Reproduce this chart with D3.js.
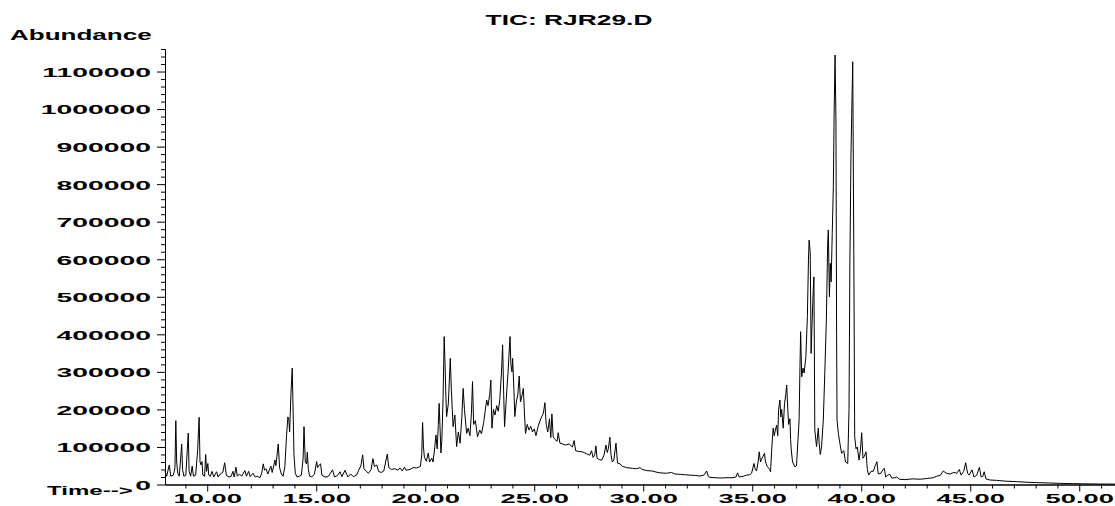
<!DOCTYPE html>
<html>
<head>
<meta charset="utf-8">
<script src="https://cdn.jsdelivr.net/npm/d3@7"></script>
<style>
  body { margin: 0; background: #fff; }
  svg { display: block; }
  text { font-family: "Liberation Sans", Arial, sans-serif; font-weight: bold; fill: #000; }
</style>
</head>
<body>
<svg id="chart" width="1115" height="506"></svg>
<script>
// retention time (min), abundance
var tic = [
  [8.06,38000],[8.14,22000],[8.26,52000],[8.33,22000],[8.45,25000],[8.52,45000],[8.56,170000],[8.60,60000],
  [8.65,30000],[8.72,22000],[8.83,108000],[8.87,40000],[8.93,22000],[9.02,25000],[9.13,137000],[9.17,35000],
  [9.24,22000],[9.31,49000],[9.37,22000],[9.47,25000],[9.56,90000],[9.63,179000],[9.67,60000],[9.72,52000],
  [9.76,61000],[9.80,25000],[9.88,22000],[9.93,80000],[9.97,35000],[10.03,56000],[10.07,25000],[10.14,22000],
  [10.22,35000],[10.30,20000],[10.43,34000],[10.50,20000],[10.60,28000],[10.72,33000],[10.80,58000],[10.88,24000],
  [11.00,20000],[11.10,22000],[11.18,35000],[11.24,20000],[11.32,46000],[11.38,22000],[11.48,28000],[11.58,22000],
  [11.73,37000],[11.80,22000],[11.90,35000],[11.97,21000],[12.10,30000],[12.20,20000],[12.30,22000],[12.42,18000],
  [12.50,30000],[12.57,55000],[12.63,38000],[12.70,42000],[12.78,28000],[12.92,49000],[12.98,32000],[13.11,65000],
  [13.15,50000],[13.26,108000],[13.32,45000],[13.40,28000],[13.48,22000],[13.56,47000],[13.64,130000],[13.70,180000],
  [13.74,175000],[13.78,140000],[13.84,240000],[13.90,310000],[13.94,198000],[13.98,80000],[14.04,30000],[14.12,20000],
  [14.22,22000],[14.32,25000],[14.40,70000],[14.44,154000],[14.50,60000],[14.56,55000],[14.59,86000],[14.64,40000],
  [14.70,22000],[14.80,20000],[14.92,28000],[15.02,61000],[15.06,45000],[15.14,52000],[15.20,55000],[15.26,25000],
  [15.40,20000],[15.55,21000],[15.75,39000],[15.84,20000],[15.98,24000],[16.09,34000],[16.18,21000],[16.32,38000],
  [16.45,20000],[16.58,28000],[16.70,21000],[16.85,25000],[16.95,38000],[17.05,50000],[17.13,79000],[17.19,42000],
  [17.30,35000],[17.40,30000],[17.52,40000],[17.60,69000],[17.67,48000],[17.78,52000],[17.86,35000],[17.98,32000],
  [18.10,36000],[18.26,81000],[18.33,45000],[18.45,40000],[18.60,42000],[18.75,38000],[18.84,44000],[18.95,36000],
  [19.05,46000],[19.12,38000],[19.30,40000],[19.45,45000],[19.60,44000],[19.78,48000],[19.84,80000],[19.88,165000],
  [19.92,100000],[19.96,73000],[20.05,62000],[20.14,84000],[20.20,60000],[20.30,70000],[20.36,60000],[20.44,100000],
  [20.49,132000],[20.55,95000],[20.60,160000],[20.64,216000],[20.68,150000],[20.72,84000],[20.76,115000],[20.82,230000],
  [20.87,394000],[20.91,320000],[20.94,252000],[20.98,181000],[21.06,215000],[21.15,336000],[21.20,250000],[21.28,154000],
  [21.36,185000],[21.44,101000],[21.52,140000],[21.60,110000],[21.68,180000],[21.74,256000],[21.80,200000],[21.90,136000],
  [21.97,150000],[22.05,130000],[22.12,190000],[22.17,274000],[22.22,160000],[22.30,170000],[22.40,127000],[22.50,145000],
  [22.58,135000],[22.68,165000],[22.76,200000],[22.82,225000],[22.88,210000],[22.96,240000],[23.01,278000],[23.06,150000],
  [23.13,200000],[23.20,185000],[23.28,210000],[23.35,195000],[23.42,225000],[23.50,300000],[23.55,372000],[23.60,240000],
  [23.64,154000],[23.72,230000],[23.80,300000],[23.89,394000],[23.93,320000],[23.98,300000],[24.01,336000],[24.07,250000],
  [24.11,181000],[24.18,220000],[24.25,240000],[24.31,289000],[24.37,220000],[24.45,240000],[24.50,256000],[24.56,180000],
  [24.60,136000],[24.68,160000],[24.76,145000],[24.84,155000],[24.92,140000],[25.00,148000],[25.08,130000],[25.18,155000],
  [25.30,175000],[25.42,190000],[25.49,218000],[25.55,160000],[25.62,140000],[25.70,175000],[25.76,125000],[25.81,188000],
  [25.87,127000],[25.95,120000],[26.05,115000],[26.10,138000],[26.18,110000],[26.30,108000],[26.45,105000],[26.60,108000],
  [26.75,100000],[26.83,117000],[26.90,90000],[27.05,88000],[27.20,87000],[27.40,82000],[27.55,78000],[27.63,90000],
  [27.70,72000],[27.78,80000],[27.83,103000],[27.88,70000],[28.00,66000],[28.10,65000],[28.20,78000],[28.29,105000],
  [28.35,85000],[28.40,95000],[28.47,126000],[28.52,80000],[28.58,60000],[28.65,65000],[28.75,110000],[28.82,57000],
  [28.94,55000],[29.05,48000],[29.24,45000],[29.50,43000],[29.70,42000],[29.85,45000],[29.95,40000],[30.16,37000],
  [30.40,36000],[30.60,33000],[30.77,31000],[31.07,30000],[31.30,32000],[31.45,28000],[31.70,27000],[31.90,26000],
  [32.14,25000],[32.40,24000],[32.60,22600],[32.78,25000],[32.91,36000],[32.98,22000],[33.06,19000],[33.30,18000],
  [33.52,17300],[33.80,18000],[34.11,18000],[34.25,20000],[34.33,31000],[34.40,20000],[34.60,22000],[34.74,25000],
  [34.90,26000],[34.97,30000],[35.08,56000],[35.14,40000],[35.20,36000],[35.27,60000],[35.32,87000],[35.38,60000],
  [35.43,68000],[35.50,75000],[35.56,83000],[35.61,60000],[35.69,48000],[35.80,40000],[35.84,34000],[35.90,100000],
  [35.96,150000],[36.01,130000],[36.06,145000],[36.12,158000],[36.17,130000],[36.21,200000],[36.27,225000],[36.31,180000],
  [36.35,200000],[36.42,150000],[36.48,215000],[36.54,240000],[36.58,265000],[36.63,200000],[36.67,160000],[36.73,175000],
  [36.76,120000],[36.79,92000],[36.85,60000],[36.96,47000],[37.03,50000],[37.10,120000],[37.15,172000],[37.19,314000],
  [37.22,407000],[37.27,287000],[37.33,310000],[37.38,297000],[37.46,340000],[37.53,447000],[37.58,600000],[37.61,651000],
  [37.66,617000],[37.70,349000],[37.74,420000],[37.80,520000],[37.83,553000],[37.87,145000],[37.95,101000],[38.03,150000],
  [38.07,110000],[38.12,80000],[38.18,100000],[38.26,172000],[38.33,300000],[38.40,438000],[38.46,640000],[38.49,678000],
  [38.54,500000],[38.58,589000],[38.62,540000],[38.67,669000],[38.72,793000],[38.76,1000000],[38.80,1144000],[38.84,971000],
  [38.87,400000],[38.89,172000],[38.95,136000],[39.02,110000],[39.10,83000],[39.20,90000],[39.28,60000],[39.38,56000],
  [39.44,200000],[39.48,598000],[39.53,882000],[39.61,1126000],[39.66,616000],[39.70,127000],[39.76,95000],[39.82,100000],
  [39.90,65000],[39.96,90000],[40.02,138000],[40.08,70000],[40.14,75000],[40.22,87000],[40.28,40000],[40.34,25000],
  [40.45,35000],[40.55,35000],[40.64,50000],[40.72,61000],[40.78,28000],[40.90,30000],[41.00,40000],[41.06,43000],
  [41.12,20000],[41.22,25000],[41.32,27000],[41.40,17000],[41.55,18000],[41.63,20000],[41.75,14000],[42.00,13000],
  [42.37,15000],[42.70,14000],[43.01,16000],[43.30,18000],[43.46,22000],[43.62,24000],[43.76,36000],[43.90,30000],
  [44.07,28000],[44.25,32000],[44.38,30000],[44.50,40000],[44.58,25000],[44.70,35000],[44.79,58000],[44.88,30000],
  [44.95,25000],[45.08,39000],[45.17,20000],[45.30,25000],[45.42,46000],[45.50,20000],[45.58,22000],[45.64,34000],
  [45.72,15000],[45.90,12000],[46.20,11000],[46.60,9000],[47.13,7500],[47.60,6000],[48.05,5000],[48.60,4000],
  [49.11,3000],[49.70,2300],[50.17,1800],[50.90,1300],[51.64,1100]
];

var yMajor = [0,100000,200000,300000,400000,500000,600000,700000,800000,900000,1000000,1100000];
var xMajor = [10,15,20,25,30,35,40,45,50];
var xLabels = ["10.00","15.00","20.00","25.00","30.00","35.00","40.00","45.00","50.00"];
var title = "TIC: RJR29.D";

var svg = d3.select("#chart"),
    width = +svg.attr("width"),
    height = +svg.attr("height");

var x = d3.scaleLinear().domain([8.064, 51.64]).range([165, 1115]);
var y = d3.scaleLinear().domain([0, 1160000]).range([484.5, 49]);

var sx = 2.1; // the instrument font is very wide

// minor ticks
var yMinor = d3.range(0, 1160001, 20000).filter(function(v){ return v % 100000 !== 0; });
var xMinor = d3.range(9, 52, 1).filter(function(v){ return v % 5 !== 0; });

svg.append("g")
   .attr("transform", "translate(165,0)")
   .call(d3.axisLeft(y).tickValues(yMinor).tickSize(4).tickSizeOuter(0).tickFormat(""));

var yAxis = svg.append("g")
   .attr("transform", "translate(165,0)")
   .call(d3.axisLeft(y).tickValues(yMajor).tickSize(8).tickSizeOuter(0).tickFormat(d3.format("d")));
yAxis.selectAll("text")
   .attr("font-size", 13.5)
   .attr("x", -14 / sx)
   .attr("dy", "0.36em")
   .attr("transform", "scale(" + sx + ",1)");

svg.append("g")
   .attr("transform", "translate(0,484.5)")
   .call(d3.axisBottom(x).tickValues(xMinor).tickSize(4).tickSizeOuter(0).tickFormat(""));

var xAxis = svg.append("g")
   .attr("transform", "translate(0,484.5)")
   .call(d3.axisBottom(x).tickValues(xMajor).tickSize(7).tickSizeOuter(0)
          .tickFormat(function(d, i){ return xLabels[i]; }));
xAxis.selectAll("text")
   .attr("font-size", 13)
   .attr("y", 18.5)
   .attr("dy", 0)
   .attr("transform", "scale(" + sx + ",1)");

svg.selectAll(".domain, .tick line").attr("stroke", "#000").attr("stroke-width", 1);

// trace
var line = d3.line()
    .x(function(d){ return x(d[0]); })
    .y(function(d){ return y(d[1]); });

svg.append("path")
   .datum(tic)
   .attr("fill", "none")
   .attr("stroke", "#000")
   .attr("stroke-width", 1)
   .attr("stroke-linejoin", "round")
   .attr("d", line);

// labels
svg.append("text")
   .attr("transform", "translate(569,25) scale(1.7,1)")
   .attr("text-anchor", "middle")
   .attr("font-size", 15.5)
   .text(title);

svg.append("text")
   .attr("transform", "translate(10,39.5) scale(1.86,1)")
   .attr("font-size", 14)
   .text("Abundance");

svg.append("text")
   .attr("transform", "translate(47,495) scale(1.85,1)")
   .attr("font-size", 13)
   .text("Time-->");
</script>
</body>
</html>
